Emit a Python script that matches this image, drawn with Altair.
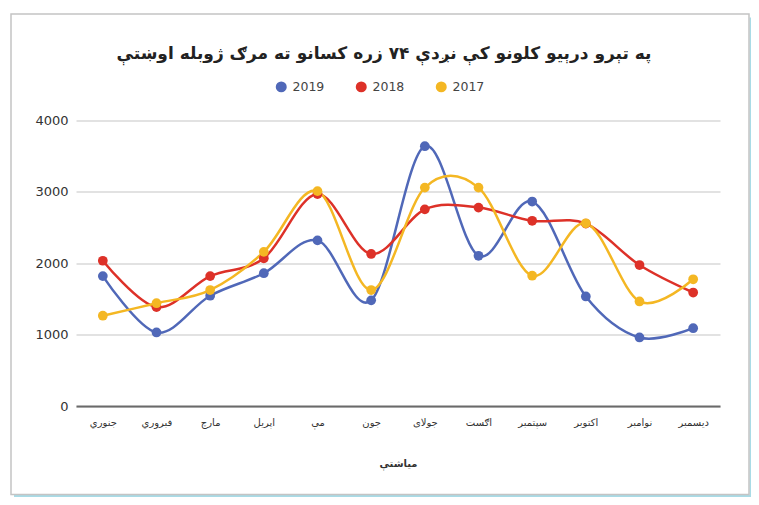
import altair as alt
import pandas as pd

months = ["جنوري", "فبروري", "مارچ", "اپریل", "مې", "جون",
          "جولای", "اګست", "سپتمبر", "اکتوبر", "نوامبر", "دیسمبر"]
years = ["2019", "2018", "2017"]
v2019 = [1820, 1030, 1545, 1860, 2320, 1480, 3640, 2105, 2865, 1535, 960, 1090]
v2018 = [2035, 1385, 1820, 2070, 2970, 2130, 2755, 2780, 2595, 2555, 1975, 1590]
v2017 = [1265, 1440, 1625, 2160, 3010, 1625, 3060, 3060, 1825, 2560, 1465, 1775]
colors = ["#5068b8", "#dd3128", "#f4b723"]
y_ticks = [0, 1000, 2000, 3000, 4000]

title_text = "په تېرو درېیو کلونو کې نږدې ۷۴ زره کسانو ته مرګ ژوبله اوښتې"
x_title = "میاشتې"

rows = []
for yr, vals in zip(years, [v2019, v2018, v2017]):
    for i, (m, v) in enumerate(zip(months, vals)):
        rows.append({"month": m, "year": yr, "value": v, "order": i})
df = pd.DataFrame(rows)

FONT = "DejaVu Sans"

x_enc = alt.X("month:N", sort=months, scale=alt.Scale(type="point", padding=0.5),
              axis=alt.Axis(title=x_title, labelAngle=0, labelFontSize=10, labelColor="#333",
                            labelPadding=11, ticks=False, domainColor="#6a6a6a", domainWidth=2,
                            titleFontSize=10, titleFontWeight="bold", titleColor="#333",
                            titlePadding=31, grid=False, labelFont=FONT, titleFont=FONT))
y_enc = alt.Y("value:Q", scale=alt.Scale(domain=[0, 4000], nice=False),
              axis=alt.Axis(title=None, values=y_ticks, format="d", labelFontSize=13,
                            labelColor="#333", labelPadding=8, ticks=False, domain=False,
                            gridColor="#d9d9d9", gridWidth=1.5, labelFont=FONT))
color_enc = alt.Color("year:N", scale=alt.Scale(domain=years, range=colors),
                      legend=alt.Legend(title=None, orient="none", direction="horizontal",
                                        legendX=199, legendY=-40, symbolType="circle",
                                        symbolSize=120, symbolStrokeWidth=0, labelFontSize=12.5,
                                        labelColor="#444", labelOffset=5, columnPadding=30,
                                        labelFont=FONT))

frame_df = pd.DataFrame({"k": [0]})
shadow_r = alt.Chart(frame_df).mark_rect(color="#a9dbe6").encode(
    x=alt.value(673.5), x2=alt.value(675), y=alt.value(-103), y2=alt.value(376.5))
shadow_b = alt.Chart(frame_df).mark_rect(color="#a9dbe6").encode(
    x=alt.value(-62), x2=alt.value(675), y=alt.value(374.5), y2=alt.value(376.5))
frame = alt.Chart(frame_df).mark_rect(fillOpacity=0, stroke="#c4c4c4", strokeWidth=1.5).encode(
    x=alt.value(-65), x2=alt.value(673), y=alt.value(-106.5), y2=alt.value(374))

base = alt.Chart(df)
lines = base.mark_line(interpolate="cardinal", strokeWidth=2.5).encode(
    x=x_enc, y=y_enc, color=color_enc, order="order:Q")
points = base.mark_point(filled=True, size=95, opacity=1).encode(
    x=x_enc, y=y_enc, color=alt.Color("year:N", scale=alt.Scale(domain=years, range=colors), legend=None))

chart = alt.layer(shadow_r, shadow_b, frame, lines, points).properties(
    width=644, height=285.5,
    autosize=alt.AutoSizeParams(type="none"),
    padding={"left": 68, "top": 112.5, "right": 31, "bottom": 91},
    title=alt.TitleParams(title_text, fontSize=17, fontWeight="bold", color="#222", font=FONT,
                          anchor="middle", dx=-14, offset=-50),
).configure(background="white").configure_view(stroke=None, strokeWidth=0)

chart.save("out.html", embed_options={"renderer": "svg", "actions": False})
